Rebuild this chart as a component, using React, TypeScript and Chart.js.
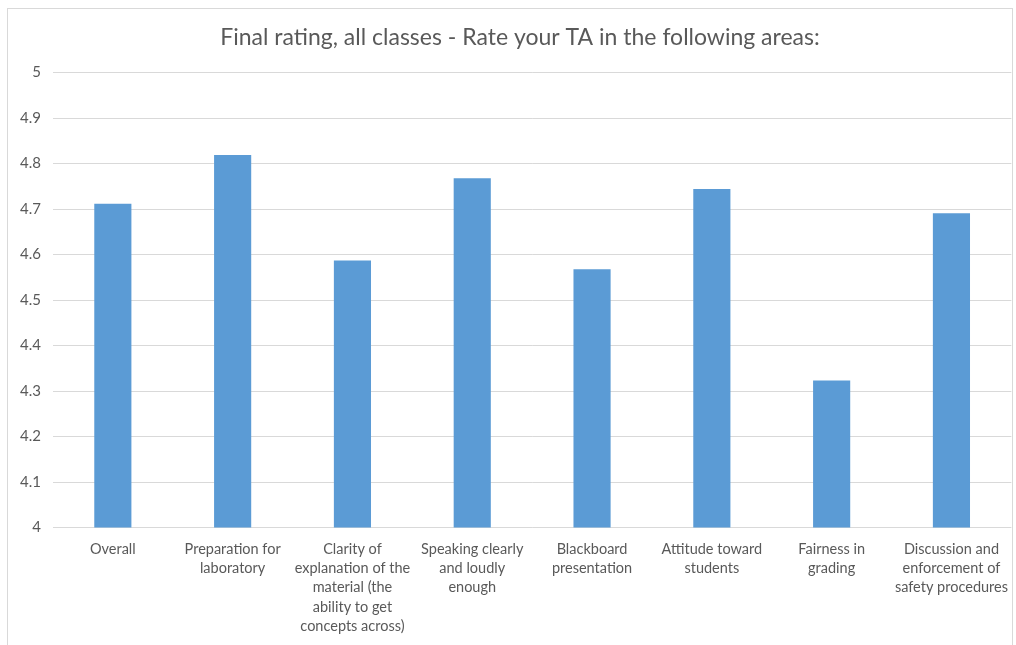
import React, { useEffect, useRef } from "react";
import { Chart, registerables, Plugin } from "chart.js";

Chart.register(...registerables);

const categories: (string | string[])[] = [
  "Overall",
  ["Preparation for", "laboratory"],
  ["Clarity of", "explanation of the", "material (the", "ability to get", "concepts across)"],
  ["Speaking clearly", "and loudly", "enough"],
  ["Blackboard", "presentation"],
  ["Attitude toward", "students"],
  ["Fairness in", "grading"],
  ["Discussion and", "enforcement of", "safety procedures"],
];

const ratings: number[] = [4.712, 4.819, 4.587, 4.768, 4.568, 4.744, 4.323, 4.691];

const chartTitle = "Final rating, all classes - Rate your TA in the following areas:";

const FONT = "Lato, 'Open Sans', sans-serif";
const TEXT = "#595959";
const GRID = "#d9d9d9";

// Nudges the title box to the right so its centre sits a little right of the canvas centre.
const titleNudge: Plugin = {
  id: "titleNudge",
  afterLayout(chart) {
    const block = (chart as any).titleBlock;
    if (block) block.left += 20;
  },
};

export default function App() {
  const canvasRef = useRef<HTMLCanvasElement | null>(null);

  useEffect(() => {
    if (!canvasRef.current) return;
    const chart = new Chart(canvasRef.current, {
      type: "bar",
      data: {
        labels: categories,
        datasets: [
          {
            label: "Rating",
            data: ratings,
            backgroundColor: "#5B9BD5",
            borderWidth: 0,
            barPercentage: 0.31,
            categoryPercentage: 1,
          },
        ],
      },
      plugins: [titleNudge],
      options: {
        animation: false,
        responsive: true,
        maintainAspectRatio: false,
        layout: { padding: { left: 0, right: 0, top: 0, bottom: 12 } },
        plugins: {
          legend: { display: false },
          tooltip: { enabled: false },
          title: {
            display: true,
            text: chartTitle,
            color: TEXT,
            font: { family: FONT, size: 23, weight: "normal" },
            padding: { top: 15, bottom: 21 },
          },
        },
        scales: {
          x: {
            grid: { display: false },
            border: { display: false },
            ticks: {
              color: TEXT,
              font: { family: FONT, size: 14.5, lineHeight: 1.33 },
              maxRotation: 0,
              autoSkip: false,
              padding: 4,
            },
          },
          y: {
            min: 4,
            max: 5,
            grid: { color: GRID, drawTicks: false, lineWidth: 1 },
            border: { display: false },
            ticks: {
              stepSize: 0.1,
              color: TEXT,
              font: { family: FONT, size: 15 },
              padding: 12,
              callback: (v) => Number(Number(v).toFixed(1)).toString(),
            },
          },
        },
      },
    });
    return () => chart.destroy();
  }, []);

  return (
    <div
      style={{
        position: "fixed",
        left: 7,
        top: 8,
        width: 1006,
        height: 645,
        border: `1px solid ${GRID}`,
        boxSizing: "border-box",
        background: "#fff",
      }}
    >
      <canvas ref={canvasRef} />
    </div>
  );
}
